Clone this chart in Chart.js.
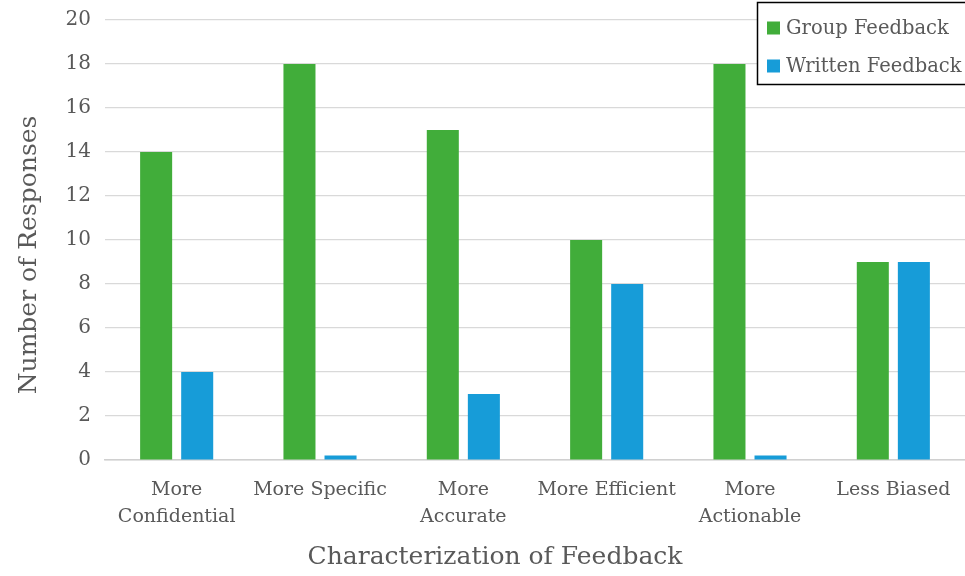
<!DOCTYPE html>
<html>
<head>
<meta charset="utf-8">
<script src="https://cdn.jsdelivr.net/npm/chart.js@4.4.1/dist/chart.umd.min.js"></script>
<style>
  html, body { margin: 0; padding: 0; background: #ffffff; }
  #wrap { width: 965px; height: 576px; position: relative; }
</style>
</head>
<body>
<div id="wrap"><canvas id="chart"></canvas></div>
<script>
// Feedback characterization survey: responses per category
const categories = [
  ['More', 'Confidential'],
  'More Specific',
  ['More', 'Accurate'],
  'More Efficient',
  ['More', 'Actionable'],
  'Less Biased'
];
const groupFeedback = [14, 18, 15, 10, 18, 9];
const writtenFeedback = [4, 0.2, 3, 8, 0.2, 9];
const seriesNames = ['Group Feedback', 'Written Feedback'];
const yTicks = [0, 2, 4, 6, 8, 10, 12, 14, 16, 18, 20];
const xAxisTitle = 'Characterization of Feedback';
const yAxisTitle = 'Number of Responses';

const FONT = "'DejaVu Serif', 'Liberation Serif', serif";
const TEXT = '#595959';

// Axis titles, placed relative to the whole figure rather than the plot
const axisTitles = {
  id: 'axisTitles',
  afterDraw(chart) {
    const ctx = chart.ctx;
    ctx.save();
    ctx.fillStyle = TEXT;
    ctx.font = '25px ' + FONT;
    ctx.textAlign = 'center';
    ctx.textBaseline = 'middle';
    ctx.fillText(xAxisTitle, 495, 557);
    ctx.translate(29, 255);
    ctx.rotate(-Math.PI / 2);
    ctx.fillText(yAxisTitle, 0, 0);
    ctx.restore();
  }
};

// Boxed legend drawn over the top-right corner of the plot
const boxedLegend = {
  id: 'boxedLegend',
  afterDraw(chart) {
    const ctx = chart.ctx;
    const x = 757, y = 2, w = 220, h = 82;
    ctx.save();
    ctx.fillStyle = '#ffffff';
    ctx.fillRect(x, y, w, h);
    ctx.strokeStyle = '#000000';
    ctx.lineWidth = 1.5;
    ctx.strokeRect(x + 0.5, y + 0.5, w, h);
    ctx.font = '19.5px ' + FONT;
    ctx.textBaseline = 'middle';
    chart.data.datasets.forEach((ds, i) => {
      const cy = 28 + i * 38;
      ctx.fillStyle = ds.backgroundColor;
      ctx.fillRect(767, cy - 6.5, 13, 13);
      ctx.fillStyle = TEXT;
      ctx.fillText(ds.label, 786, cy + 1);
    });
    ctx.restore();
  }
};

new Chart(document.getElementById('chart'), {
  type: 'bar',
  data: {
    labels: categories,
    datasets: [
      { label: seriesNames[0], data: groupFeedback, backgroundColor: '#41AD3A' },
      { label: seriesNames[1], data: writtenFeedback, backgroundColor: '#179CD8' }
    ]
  },
  options: {
    responsive: true,
    maintainAspectRatio: false,
    animation: false,
    devicePixelRatio: 1,
    categoryPercentage: 0.573,
    barPercentage: 0.78,
    layout: { padding: { top: 20, right: 0, left: 0, bottom: 0 } },
    plugins: {
      legend: { display: false },
      tooltip: { enabled: false }
    },
    scales: {
      x: {
        grid: { display: false, drawTicks: false },
        border: { display: true, color: '#d0d0d0', width: 1.5 },
        ticks: {
          color: TEXT,
          font: { family: FONT, size: 19, lineHeight: 1.45 },
          padding: 16,
          maxRotation: 0,
          autoSkip: false
        },
        afterFit(scale) {
          scale.height = 116;
          scale.paddingLeft = 0;
          scale.paddingRight = 0;
        }
      },
      y: {
        min: 0,
        max: 20,
        afterBuildTicks(scale) { scale.ticks = yTicks.map(v => ({ value: v })); },
        grid: { color: '#d9d9d9', lineWidth: 1.2, drawTicks: false },
        border: { display: false },
        ticks: {
          color: TEXT,
          font: { family: FONT, size: 20 },
          padding: 14
        },
        afterFit(scale) {
          scale.width = 105;
          scale.paddingTop = 0;
          scale.paddingBottom = 0;
        }
      }
    }
  },
  plugins: [axisTitles, boxedLegend]
});
</script>
</body>
</html>
